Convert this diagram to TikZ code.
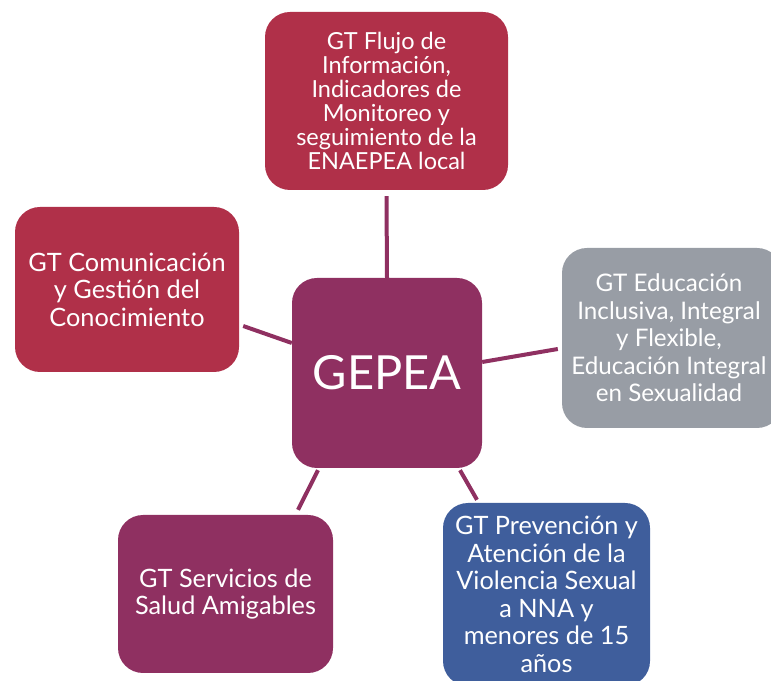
\documentclass[tikz,border=0pt]{standalone}
\usepackage{fontspec}
\setmainfont{Lato}
\usetikzlibrary{calc,backgrounds}
\definecolor{gred}{HTML}{B03049}
\definecolor{gpurple}{HTML}{8F3061}
\definecolor{ggray}{HTML}{989DA5}
\definecolor{gblue}{HTML}{3F5E9C}
\begin{document}
\begin{tikzpicture}[x=1pt,y=1pt,
  box/.style={rounded corners=25pt, text=white, align=center, inner sep=0pt},
  small/.style={font=\fontsize{23.5}{24}\selectfont},
  normal/.style={font=\fontsize{25.3}{27.5}\selectfont},
  link/.style={draw=gpurple, line width=4pt}]
\clip (0,0) rectangle (771,680);
\node[box, small, fill=gred, minimum width=243pt, minimum height=178pt] (t) at (386.5,579)
  {GT Flujo de\\Información,\\Indicadores de\\Monitoreo y\\seguimiento de la\\ENAEPEA local};
\node[box, normal, fill=gred, minimum width=224pt, minimum height=165pt] (l) at (127,390.5)
  {GT Comunicación\\y Gestión del\\Conocimiento};
\node[box, fill=gpurple, minimum width=190pt, minimum height=190pt, font=\fontsize{47}{50}\selectfont] (c) at (387,307)
  {GEPEA};
\node[box, fill=ggray, minimum width=220pt, minimum height=180pt, font=\fontsize{24.2}{27.5}\selectfont] (r) at (672,342)
  {};
\node[text=white, align=center, inner sep=0pt, font=\fontsize{24.2}{27.5}\selectfont] (rt) at ([xshift=-3pt]r.center)
  {GT Educación\\Inclusiva, Integral\\y Flexible,\\Educación Integral\\en Sexualidad};
\node[box, normal, fill=gpurple, minimum width=215pt, minimum height=158pt] (bl) at (225.5,86)
  {GT Servicios de\\Salud Amigables};
\node[box, normal, fill=gblue, minimum width=207pt, minimum height=183pt] (br) at (546.5,85.5)
  {GT Prevención y\\Atención de la\\Violencia Sexual\\a NNA y\\menores de 15\\años};
\begin{scope}[on background layer]
\draw[link] ([yshift=-6pt]t.south) -- (c.north);
\draw[link] ([shift={(4pt,-36.5pt)}]l.east) -- ([yshift=30pt]c.west);
\draw[link] ([yshift=11pt]c.east) -- ([shift={(-4pt,-11pt)}]r.west);
\draw[link] ([shift={(-69pt,-2pt)}]c.south) -- ([shift={(72.5pt,5pt)}]bl.north);
\draw[link] ([shift={(73pt,-2pt)}]c.south) -- ([shift={(-69.5pt,3pt)}]br.north);
\end{scope}
\end{tikzpicture}
\end{document}
